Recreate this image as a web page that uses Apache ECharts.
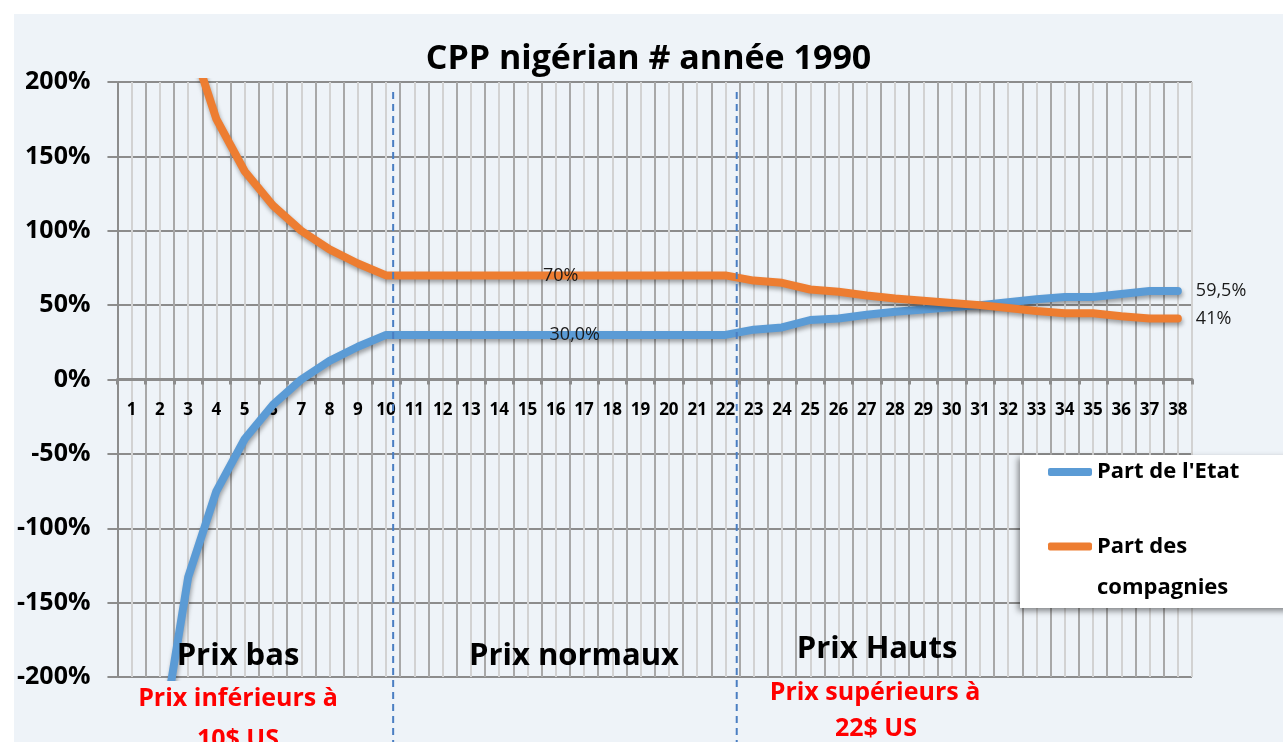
<!DOCTYPE html>
<html>
<head>
<meta charset="utf-8">
<script src="https://cdn.jsdelivr.net/npm/echarts@6/dist/echarts.min.js"></script>
<style>
html, body { margin: 0; padding: 0; background: #fff; }
#main { position: absolute; left: 14px; top: 14px; width: 1269px; height: 728px; background: #EEF3F8; }
</style>
</head>
<body>
<div id="main"></div>
<script>
var categories = ['1','2','3','4','5','6','7','8','9','10','11','12','13','14','15','16','17','18','19',
    '20','21','22','23','24','25','26','27','28','29','30','31','32','33','34','35','36','37','38'];
// part de l'Etat (%)
var partEtat = [-600, -250, -133, -75, -40, -17, 0, 12.5, 22, 30,
    30, 30, 30, 30, 30, 30, 30, 30, 30, 30, 30, 30,
    33.5, 35, 40, 41, 43.5, 45.5, 47, 48.5, 50, 52, 54, 55.5, 55.5, 57.5, 59.5, 59.5];
// part des compagnies (%)
var partCompagnies = [700, 350, 233, 175, 140, 117, 100, 87.5, 78, 70,
    70, 70, 70, 70, 70, 70, 70, 70, 70, 70, 70, 70,
    66.5, 65, 60.5, 59, 56.5, 54.5, 53, 51.5, 50, 48, 46, 44.5, 44.5, 42.5, 41, 41];
var etatLabels = {15: '30,0%', 37: '59,5%'};
var compLabels = {15: '70%', 37: '41%'};
var yTicks = [-200, -150, -100, -50, 0, 50, 100, 150, 200];

var FONT = '"Open Sans"';
var chart = echarts.init(document.getElementById('main'));

function withLabels(values, labels, midOffset) {
    return values.map(function (v, i) {
        if (!labels[i]) return v;
        var last = i === values.length - 1;
        return {
            value: v,
            label: {
                show: true,
                formatter: labels[i],
                position: last ? 'right' : 'inside',
                distance: 18,
                offset: last ? [0, 0] : midOffset,
                fontFamily: FONT,
                fontSize: 18,
                color: '#1a1a1a'
            }
        };
    });
}

var lineShadow = {shadowColor: 'rgba(0,0,0,0.35)', shadowBlur: 4, shadowOffsetX: 1, shadowOffsetY: 3};
var gridTop = 68, gridBottom = 65, chartH = 728;

chart.setOption({
    title: {
        text: 'CPP nigérian # année 1990',
        left: 'center',
        top: 23,
        textStyle: {fontFamily: FONT, fontWeight: 'bold', fontSize: 34, color: '#000'}
    },
    grid: {left: 103, right: 91, top: gridTop, bottom: gridBottom},
    legend: {
        orient: 'vertical',
        left: 1006,
        top: 441,
        padding: [2, 80, 0, 28],
        itemWidth: 44,
        itemHeight: 8,
        itemGap: -2,
        icon: 'roundRect',
        selectedMode: false,
        backgroundColor: '#fff',
        shadowBlur: 6,
        shadowColor: 'rgba(0,0,0,0.45)',
        shadowOffsetX: -2,
        shadowOffsetY: 3,
        textStyle: {fontFamily: FONT, fontWeight: 'bold', fontSize: 22, color: '#000', lineHeight: 30},
        data: [
            {name: "Part de l'Etat", textStyle: {lineHeight: 30}},
            {name: 'Part des compagnies', textStyle: {lineHeight: 41}}
        ],
        formatter: function (n) {
            return n === 'Part des compagnies' ? '\nPart des\ncompagnies' : n;
        }
    },
    xAxis: [{
        type: 'category',
        data: categories,
        position: 'bottom',
        offset: -(chartH - gridTop - gridBottom) / 2,
        axisLine: {onZero: false, lineStyle: {color: '#8C8C8C', width: 3}},
        axisTick: {show: true, length: 5, lineStyle: {color: '#8C8C8C', width: 3}},
        axisLabel: {fontFamily: FONT, fontWeight: 'bold', fontSize: 17, color: '#000', margin: 22},
        splitLine: {show: true, lineStyle: {color: '#A8A8A8', width: 2}}
    }, {
        type: 'category',
        position: 'top',
        data: categories.concat(categories).map(function () { return ''; }),
        axisLine: {show: false},
        axisTick: {show: false},
        axisLabel: {show: false},
        splitLine: {
            show: true,
            interval: function (i) { return i % 2 === 1; },
            lineStyle: {color: '#D2D2D2', width: 2}
        }
    }],
    yAxis: {
        type: 'value',
        min: yTicks[0],
        max: yTicks[yTicks.length - 1],
        interval: 50,
        axisLine: {show: true, lineStyle: {color: '#8C8C8C', width: 2}},
        axisTick: {show: true, length: 10, lineStyle: {color: '#8C8C8C', width: 2}},
        axisLabel: {
            formatter: '{value}%',
            fontFamily: FONT, fontWeight: 'bold', fontSize: 25, color: '#000', margin: 27
        },
        splitLine: {lineStyle: {color: '#8C8C8C', width: 2}}
    },
    series: [{
        name: "Part de l'Etat",
        type: 'line',
        data: withLabels(partEtat, etatLabels, [19, 0]),
        showSymbol: true,
        symbol: 'circle',
        symbolSize: 0,
        color: '#5B9BD5',
        lineStyle: Object.assign({width: 8, cap: 'round', join: 'round'}, lineShadow),
        z: 5
    }, {
        name: 'Part des compagnies',
        type: 'line',
        data: withLabels(partCompagnies, compLabels, [5, 0]),
        showSymbol: true,
        symbol: 'circle',
        symbolSize: 0,
        color: '#ED7D31',
        lineStyle: Object.assign({width: 8, cap: 'round', join: 'round'}, lineShadow),
        z: 5
    }]
});

// annotations : lignes pointillées et zones de prix
function catX(name) { return chart.convertToPixel({xAxisIndex: 0}, name); }
var xA = catX('10') + 0.25 * (catX('11') - catX('10'));
var xB = catX('22') + 0.4 * (catX('23') - catX('22'));

function txt(s, x, y, size, color) {
    return {
        type: 'text', x: x, y: y, z: 100,
        style: {text: s, font: 'bold ' + size + 'px ' + FONT, fill: color, align: 'center', verticalAlign: 'middle'}
    };
}
function dash(x) {
    return {
        type: 'line', z: 50,
        shape: {x1: x, y1: 78, x2: x, y2: chartH},
        style: {stroke: '#4A7EC2', lineWidth: 2, lineDash: [7, 5]}
    };
}

chart.setOption({
    graphic: [
        dash(xA), dash(xB),
        txt('Prix bas', 224, 642, 31, '#000'),
        txt('Prix normaux', 560, 642, 31, '#000'),
        txt('Prix Hauts', 863, 635, 31, '#000'),
        txt('Prix inférieurs à', 224, 685, 25, '#FF0000'),
        txt('10$ US', 224, 726, 25, '#FF0000'),
        txt('Prix supérieurs à', 861, 679, 25, '#FF0000'),
        txt('22$ US', 862, 715, 25, '#FF0000')
    ]
});
</script>
</body>
</html>
